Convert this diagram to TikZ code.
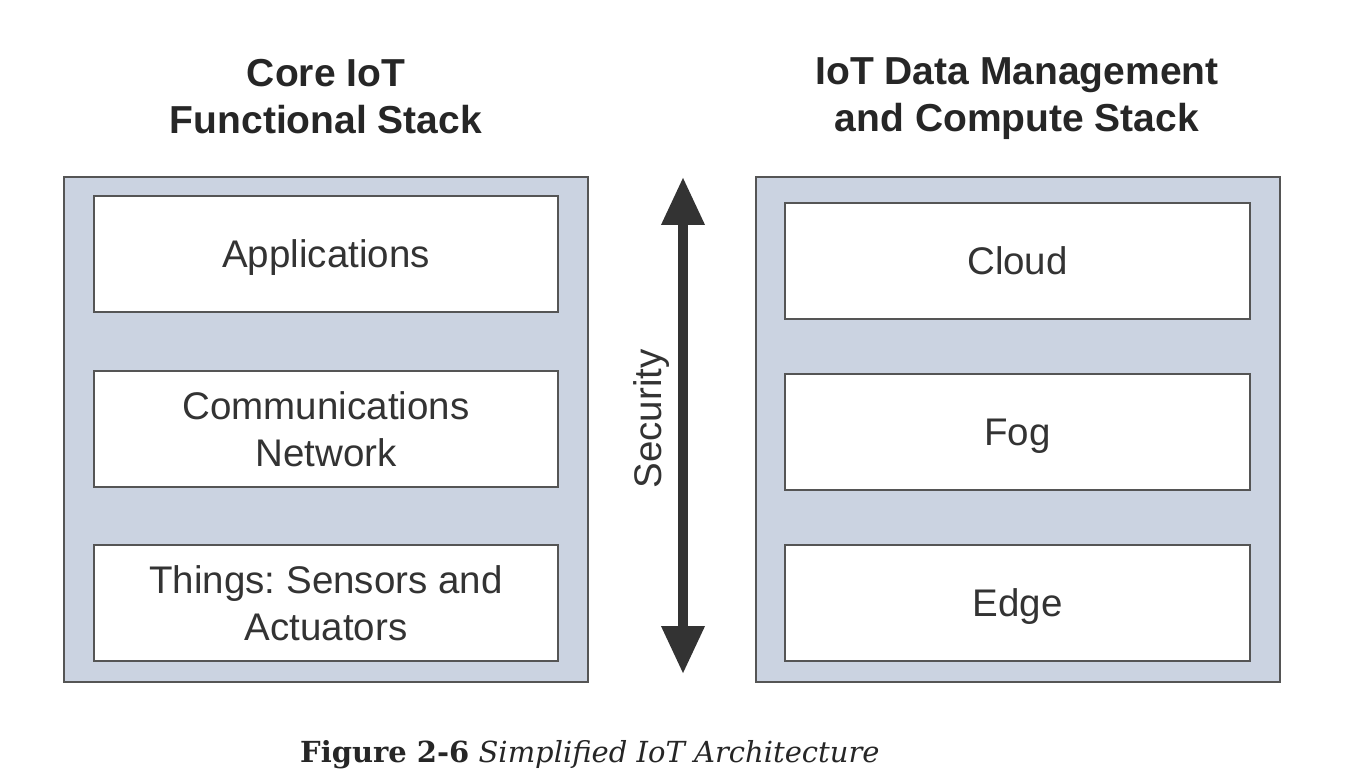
\documentclass[tikz,border=0pt]{standalone}
\usepackage{fontspec}
\setmainfont{Liberation Sans}
\newfontfamily\capfont{DejaVu Serif}
\usetikzlibrary{arrows.meta}
\frenchspacing
\definecolor{stackfill}{HTML}{CBD3E1}
\definecolor{edgegray}{HTML}{555555}
\definecolor{textgray}{HTML}{333333}
\definecolor{arrowgray}{HTML}{333333}
\tikzset{
  outerbox/.style={draw=edgegray, line width=2pt, fill=stackfill, minimum width=524pt, minimum height=505pt, inner sep=0pt},
  innerbox/.style={draw=edgegray, line width=2pt, fill=white, minimum height=116pt, inner sep=0pt, align=center,
    font=\fontsize{38.5}{47}\selectfont, text=textgray},
  oneline/.style={text height=34.6pt, text depth=7.1pt},
  titletext/.style={font=\fontsize{39}{47}\selectfont\bfseries, text=black!85, align=center},
  secarrow/.style={line width=10pt, draw=arrowgray, {Triangle[width=41pt,length=48pt]}-{Triangle[width=41pt,length=48pt]}}
}
\begin{document}
\begin{tikzpicture}[x=1pt,y=-1pt]
\useasboundingbox (0,0) rectangle (1349,783);
% titles
\node[titletext] (lt) at (326,97) {Core IoT\\Functional Stack};
\node[titletext] (rt) at (1017,99) {IoT Data Management\\and Compute Stack};
% left stack
\node[outerbox] (L) at (326,429.5) {};
\node[innerbox, oneline, minimum width=464pt] (app) at (326,254) {Applications};
\node[innerbox, minimum width=464pt] (comm) at (326,429) {Communications\\Network};
\node[innerbox, minimum width=464pt] (things) at (326,603) {Things: Sensors and\\Actuators};
% right stack
\node[outerbox] (R) at (1017.5,429.5) {};
\node[innerbox, oneline, minimum width=465pt] (cloud) at (1017.5,261) {Cloud};
\node[innerbox, oneline, minimum width=465pt] (fog) at (1017.5,432) {Fog};
\node[innerbox, oneline, minimum width=465pt] (edge) at (1017.5,602.5) {Edge};
% security arrow
\coordinate (atop) at (683,177);
\coordinate (abot) at (683,674);
\draw[secarrow] (atop) -- (abot);
\node[rotate=90, font=\fontsize{38.5}{47}\selectfont, text=textgray] (sec) at (652,419) {Security};
% caption
\node[anchor=base west, font=\capfont\fontsize{29}{35}\selectfont, text=black!85, inner sep=0pt] (cap) at (300,762)
  {\textbf{Figure 2-6} \textit{Simplified IoT Architecture}};
\end{tikzpicture}
\end{document}
